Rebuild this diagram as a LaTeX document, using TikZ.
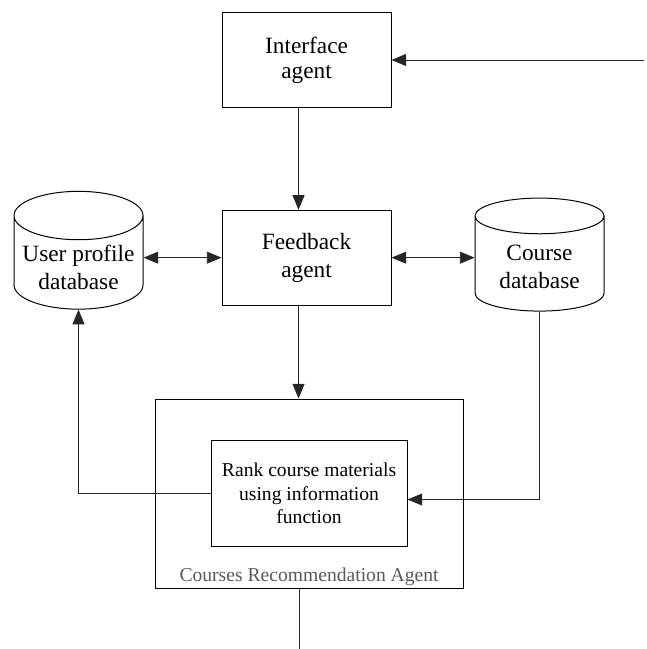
\documentclass[tikz,border=0pt]{standalone}
\usepackage{fontspec}
\setmainfont{Liberation Serif}
\usetikzlibrary{positioning,shapes.geometric,arrows.meta}

\begin{document}
\begin{tikzpicture}
	[auto,node distance=76.5pt,>={Triangle[length=11pt,width=9pt]},
	 font=\fontsize{17.5}{21}\selectfont]
	\tikzstyle{agent}=[rectangle, draw, line width=0.75pt, minimum width=126.75pt, minimum height=71pt, align=center];
	\tikzstyle{database}=[cylinder, shape border rotate=90, draw, line width=0.75pt, aspect=0.4, minimum width=96.75pt, minimum height=84.75pt, align=center];
	\tikzstyle{small}=[font=\fontsize{14.7}{17.5}\selectfont];
	\tikzstyle{link}=[line width=0.6pt, black!85];

	\useasboundingbox (-229.9pt,45pt) rectangle (254.6pt,-441.75pt);

	\node[agent, font=\fontsize{17.5}{19}\selectfont] (I) {Interface\\agent};
	\node[agent] (F) [below=of I] {Feedback\\agent};
	\node[database] (U) [left=58.5pt of F, yshift=-7pt] {User profile\\database};
	\node[database] (C) [right=62.25pt of F, yshift=-7pt] {Course\\database};
	\node[agent, minimum width=231pt, minimum height=141.75pt] (R) [below=69.75pt of F, xshift=1.9pt] {};
	\node[agent, small, minimum width=147pt, minimum height=79.5pt] (M) at (R) {Rank course materials\\using information\\function};
	\node[small, text=black!65, anchor=base] (L) at ([yshift=5.25pt]R.south) {Courses Recommendation Agent};
	\coordinate[right=189pt of I] (in);
	\coordinate (out) at ([xshift=-7.5pt,yshift=-46.5pt]R.south);

	\path[link]
	(in) edge[->] (I)
	([xshift=-6pt]I.south) edge[->] ([xshift=-6pt]F.north)
	([xshift=-6pt]F.south) edge[->] ([xshift=-6pt]F.south |- R.north)
	(F.west -| U.east) edge[<->] (F.west)
	(F.east) edge[<->] (F.east -| C.west)
	(out |- R.south) edge (out);
	\draw[link,->] (M.west) -| (U.south);
	\draw[link,->] (C.south) |- ([yshift=-4.5pt]M.east);

\end{tikzpicture}
\end{document}
